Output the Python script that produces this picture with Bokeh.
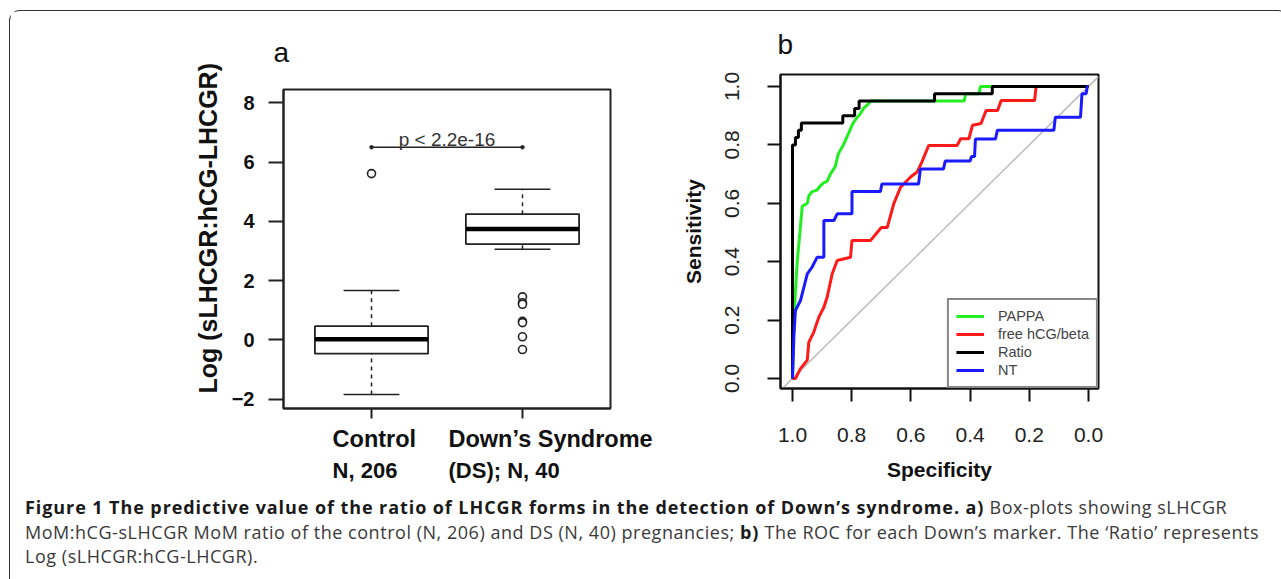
from bokeh.plotting import figure
from bokeh.models import Range1d, FixedTicker, PrintfTickFormatter, Legend, LegendItem, Div, Title
from bokeh.layouts import row, column
from bokeh.embed import file_html
from bokeh.resources import INLINE
from bokeh.core.properties import value

# ---------------- data: panel a (box plots) ----------------
group_pos = [1, 2]
group_label_line1 = ["Control", "Down\u2019s Syndrome"]
group_label_line2 = ["N, 206", "(DS); N, 40"]
box_q1 = [-0.47, 3.23]
box_median = [0.02, 3.74]
box_q3 = [0.46, 4.24]
whisker_low = [-1.85, 3.06]
whisker_high = [1.66, 5.08]
control_outliers = [5.61]
ds_outliers = [1.45, 1.25, 1.2, 0.62, 0.58, 0.1, -0.33]
y_ticks_a = [-2, 0, 2, 4, 6, 8]
y_label_a = "Log (sLHCGR:hCG-LHCGR)"
p_value_text = "p < 2.2e-16"
p_value_y = 6.5

# ---------------- data: panel b (ROC curves) ----------------
pappa_spec = [1.0, 0.995, 0.99, 0.984, 0.975, 0.967, 0.95, 0.945, 0.934, 0.917, 0.906, 0.895, 0.883, 0.872,
              0.856, 0.845, 0.828, 0.817, 0.806, 0.795, 0.785, 0.772, 0.76, 0.749, 0.735, 0.42, 0.415, 0.37,
              0.365, 0.0]
pappa_sens = [0.0, 0.2, 0.3, 0.4, 0.5, 0.59, 0.6, 0.625, 0.64, 0.645, 0.66, 0.67, 0.675, 0.7,
              0.725, 0.77, 0.8, 0.825, 0.85, 0.875, 0.89, 0.905, 0.925, 0.935, 0.95, 0.95, 0.975, 0.975,
              1.0, 1.0]
hcg_spec = [1.0, 0.99, 0.973, 0.95, 0.945, 0.928, 0.911, 0.894, 0.883, 0.866, 0.849, 0.804, 0.799, 0.736,
            0.714, 0.70, 0.68, 0.658, 0.635, 0.601, 0.579, 0.563, 0.54, 0.444, 0.432, 0.404, 0.392, 0.363,
            0.346, 0.307, 0.295, 0.182, 0.177, 0.0]
hcg_sens = [0.0, 0.0, 0.034, 0.063, 0.124, 0.159, 0.21, 0.244, 0.278, 0.358, 0.404, 0.415, 0.473, 0.473,
            0.50, 0.517, 0.517, 0.598, 0.655, 0.69, 0.707, 0.741, 0.798, 0.798, 0.821, 0.821, 0.867, 0.873,
            0.918, 0.918, 0.952, 0.952, 1.0, 1.0]
ratio_spec = [1.0, 1.0, 0.99, 0.99, 0.98, 0.98, 0.97, 0.97, 0.83, 0.83, 0.79, 0.79, 0.775, 0.775, 0.52,
              0.52, 0.325, 0.325, 0.0]
ratio_sens = [0.0, 0.8, 0.8, 0.825, 0.825, 0.85, 0.85, 0.875, 0.875, 0.9, 0.9, 0.925, 0.925, 0.95, 0.95,
              0.975, 0.975, 1.0, 1.0]
nt_spec = [1.0, 0.995, 0.99, 0.973, 0.95, 0.934, 0.917, 0.894, 0.894, 0.86, 0.849, 0.799, 0.799, 0.703,
           0.698, 0.574, 0.568, 0.49, 0.484, 0.40, 0.395, 0.385, 0.382, 0.314, 0.308, 0.117, 0.112, 0.027,
           0.022, 0.008, 0.004, 0.0]
nt_sens = [0.0, 0.15, 0.233, 0.267, 0.358, 0.381, 0.415, 0.415, 0.541, 0.541, 0.564, 0.564, 0.64, 0.64,
           0.666, 0.666, 0.717, 0.717, 0.745, 0.745, 0.76, 0.76, 0.82, 0.82, 0.85, 0.85, 0.895, 0.895,
           0.975, 0.975, 1.0, 1.0]
legend_names = ["PAPPA", "free hCG/beta", "Ratio", "NT"]
curve_colors = ["#22ee22", "#ff1a1a", "#000000", "#1a1aff"]
ticks_b = [0.0, 0.2, 0.4, 0.6, 0.8, 1.0]

FONT = "Liberation Sans"

# ---------------- panel a ----------------
xa = (0.417, 2.583)
ya = (-2.32, 8.45)
fw_a, fh_a = 327, 319
top_a, bottom_a = 78, 12
px_per_x = fw_a / (xa[1] - xa[0])
px_per_y = fh_a / (ya[1] - ya[0])

pa = figure(frame_width=fw_a, frame_height=fh_a,
            x_range=Range1d(*xa), y_range=Range1d(*ya),
            min_border_left=273, min_border_right=52, min_border_top=top_a, min_border_bottom=bottom_a,
            output_backend="svg", toolbar_location=None)
pa.grid.visible = False
pa.outline_line_color = "#222222"
pa.outline_line_width = 2

pa.title.text = "a"
pa.title.align = "left"
pa.title.offset = -10
pa.title.standoff = 44
pa.title.text_font = FONT
pa.title.text_font_style = "normal"
pa.title.text_font_size = "28px"
pa.title.text_color = "#111111"

# y-axis title, set a little above the frame centre as in the original
pa.add_layout(Title(text=y_label_a, align="left", offset=15, standoff=14, text_font=FONT,
                    text_font_style="bold", text_font_size="25px", text_color="#111111"), "left")

pa.segment(x0=group_pos, y0=box_q3, x1=group_pos, y1=whisker_high, line_color="#222222",
           line_width=1.5, line_dash="4 4")
pa.segment(x0=group_pos, y0=whisker_low, x1=group_pos, y1=box_q1, line_color="#222222",
           line_width=1.5, line_dash="4 4")
cap_half = 0.185
pa.segment(x0=[g - cap_half for g in group_pos], y0=whisker_high,
           x1=[g + cap_half for g in group_pos], y1=whisker_high, line_color="#222222", line_width=1.5)
pa.segment(x0=[g - cap_half for g in group_pos], y0=whisker_low,
           x1=[g + cap_half for g in group_pos], y1=whisker_low, line_color="#222222", line_width=1.5)
pa.vbar(x=group_pos, width=0.75, bottom=box_q1, top=box_q3, fill_color="white",
        line_color="#222222", line_width=1.8)
pa.segment(x0=[g - 0.375 for g in group_pos], y0=box_median, x1=[g + 0.375 for g in group_pos],
           y1=box_median, line_color="#000000", line_width=4.5)
out_x = [group_pos[0]] * len(control_outliers) + [group_pos[1]] * len(ds_outliers)
out_y = control_outliers + ds_outliers
pa.scatter(x=out_x, y=out_y, marker="circle", size=8, fill_color="white", line_color="#222222",
           line_width=1.6)
pa.line(x=group_pos, y=[p_value_y, p_value_y], line_color="#222222", line_width=1.6)
pa.scatter(x=group_pos, y=[p_value_y, p_value_y], size=3.5, color="#222222")
pa.text(x=[sum(group_pos) / 2], y=[p_value_y], text=[p_value_text], text_font=value(FONT),
        text_font_size="19px", text_align="center", text_baseline="bottom", text_color="#333333",
        y_offset=3)

pa.xaxis.ticker = FixedTicker(ticks=group_pos)
pa.xaxis.major_label_overrides = {1: "", 2: ""}
pa.xaxis.major_label_text_font_size = "1px"
pa.xaxis.major_label_standoff = 0
pa.xaxis.major_tick_out = 10
pa.xaxis.major_tick_in = 0
pa.xaxis.minor_tick_line_color = None
pa.xaxis.axis_line_width = 2
pa.xaxis.major_tick_line_width = 2
pa.xaxis.axis_line_color = "#222222"
pa.xaxis.major_tick_line_color = "#222222"

pa.yaxis.ticker = FixedTicker(ticks=y_ticks_a)
pa.yaxis.major_tick_out = 15
pa.yaxis.major_tick_in = 0
pa.yaxis.minor_tick_line_color = None
pa.yaxis.axis_line_width = 2
pa.yaxis.major_tick_line_width = 2
pa.yaxis.axis_line_color = "#222222"
pa.yaxis.major_tick_line_color = "#222222"
pa.yaxis.major_label_text_font = FONT
pa.yaxis.major_label_text_font_style = "bold"
pa.yaxis.major_label_text_font_size = "20px"
pa.yaxis.major_label_text_color = "#111111"
pa.yaxis.major_label_standoff = 14

# strip under panel a carrying the group labels, on the same scale as panel a
fh_l = 70
fw_l = 379
y_top_l = ya[0] - bottom_a / px_per_y
la = figure(title=None, frame_width=fw_l, frame_height=fh_l,
            x_range=Range1d(xa[0], xa[0] + fw_l / px_per_x),
            y_range=Range1d(y_top_l - fh_l / px_per_y, y_top_l),
            min_border_left=273, min_border_right=0, min_border_top=0, min_border_bottom=0,
            x_axis_location=None, y_axis_location=None, output_backend="svg", toolbar_location=None)
la.grid.visible = False
la.outline_line_color = None
label_left_x = [0.742, 1.51]
la.text(x=label_left_x, y=[-3.365, -3.365], text=group_label_line1, text_font=value(FONT),
        text_font_style="bold", text_font_size="23.5px", text_align="left", text_baseline="middle",
        text_color="#111111")
la.text(x=label_left_x, y=[-4.41, -4.41], text=group_label_line2, text_font=value(FONT),
        text_font_style="bold", text_font_size="22px", text_align="left", text_baseline="middle",
        text_color="#111111")

# ---------------- panel b ----------------
pb = figure(frame_width=318, frame_height=314,
            x_range=Range1d(1.0405, -0.0338), y_range=Range1d(-0.0342, 1.041),
            min_border_left=118, min_border_right=180, min_border_top=63, min_border_bottom=102,
            output_backend="svg", toolbar_location=None)
pb.grid.visible = False
pb.outline_line_color = "#111111"
pb.outline_line_width = 2

pb.title.text = "b"
pb.title.align = "left"
pb.title.offset = -3
pb.title.standoff = 29
pb.title.text_font = FONT
pb.title.text_font_style = "normal"
pb.title.text_font_size = "28px"
pb.title.text_color = "#111111"

pb.line(x=[1.0405, -0.0338], y=[-0.0405, 1.0338], line_color="#bbbbbb", line_width=1.5)
renderers = []
for sx, sy, c in zip([pappa_spec, hcg_spec, ratio_spec, nt_spec],
                     [pappa_sens, hcg_sens, ratio_sens, nt_sens], curve_colors):
    renderers.append(pb.line(x=sx, y=sy, line_color=c, line_width=3))

items = [LegendItem(label=n, renderers=[r]) for n, r in zip(legend_names, renderers)]
legend = Legend(items=items, location="bottom_right", margin=0, padding=7, spacing=0,
                label_height=18, glyph_height=18, glyph_width=28, label_standoff=14,
                label_text_font=FONT, label_text_font_size="14.5px", label_text_color="#444444",
                border_line_color="#111111", border_line_width=2, background_fill_alpha=1)
pb.add_layout(legend)

for ax in (pb.xaxis[0], pb.yaxis[0]):
    ax.ticker = FixedTicker(ticks=ticks_b)
    ax.formatter = PrintfTickFormatter(format="%.1f")
    ax.major_tick_out = 13
    ax.major_tick_in = 0
    ax.minor_tick_line_color = None
    ax.axis_line_width = 2
    ax.major_tick_line_width = 2
    ax.axis_line_color = "#111111"
    ax.major_tick_line_color = "#111111"
    ax.major_label_text_font = FONT
    ax.major_label_text_font_size = "21px"
    ax.major_label_text_color = "#222222"
    ax.axis_label_text_font = FONT
    ax.axis_label_text_font_style = "bold"
    ax.axis_label_text_font_size = "21px"
    ax.axis_label_text_color = "#111111"
pb.xaxis.axis_label = "Specificity"
pb.xaxis.major_label_standoff = 26
pb.xaxis.axis_label_standoff = 13
pb.yaxis.axis_label = "Sensitivity"
pb.yaxis.major_label_orientation = "vertical"
pb.yaxis.major_label_standoff = 28
pb.yaxis.axis_label_standoff = 18

# ---------------- caption ----------------
caption_html = (
    "<div style=\"padding:0 0 0 10px; font-family:'Open Sans'; font-size:18px; line-height:24.5px; "
    "letter-spacing:0.53px; color:#3a3a3a; white-space:nowrap;\">"
    "<b style='color:#1a1a1a; letter-spacing:0.92px'>Figure 1 The predictive value of the ratio of LHCGR "
    "forms in the detection of Down\u2019s syndrome. a)</b> Box-plots showing sLHCGR<br>"
    "MoM:hCG-sLHCGR MoM ratio of the control (N, 206) and DS (N, 40) pregnancies; "
    "<b style='color:#1a1a1a; letter-spacing:0.92px'>b)</b> The ROC for each Down\u2019s marker. "
    "The \u2018Ratio\u2019 represents<br>"
    "Log (sLHCGR:hCG-LHCGR).</div>"
)
cap = Div(text=caption_html, width=1268, height=89, styles={"overflow": "hidden"})

root = column(row(column(pa, la), pb), cap,
              styles={"border": "1.5px solid #333333", "border-bottom": "none",
                      "border-radius": "11px 11px 0 0", "margin": "10px 0 0 9px"})

open("out.html", "w").write(file_html(root, INLINE))
